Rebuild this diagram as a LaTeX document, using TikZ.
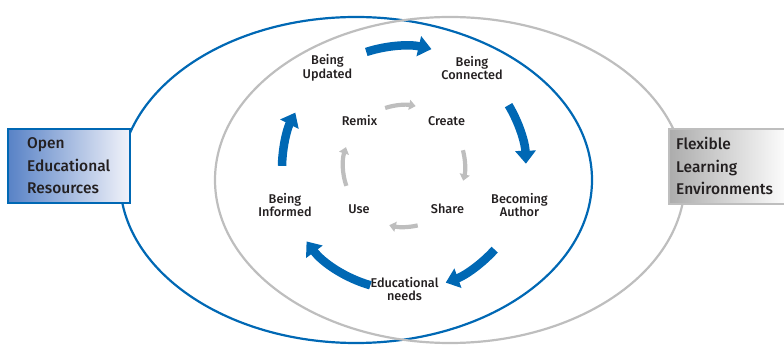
\documentclass[tikz,border=0pt]{standalone}
\usepackage{fontspec}
\setmainfont{Fira Sans}[BoldFont={Fira Sans Medium}]
\usetikzlibrary{arrows.meta}
\definecolor{oblue}{RGB}{0,104,180}
\definecolor{ogray}{RGB}{190,190,190}
\definecolor{txt}{RGB}{35,31,32}
\definecolor{oerleft}{RGB}{88,130,198}
\definecolor{oerright}{RGB}{242,243,250}
\definecolor{fleleft}{RGB}{172,172,172}
\begin{document}
\begin{tikzpicture}[x=1pt,y=1pt,
  lbl/.style={align=center, inner sep=0pt, text=txt, font=\fontsize{12.7}{13.5}\selectfont\bfseries},
  boxtxt/.style={align=left, inner sep=0pt, anchor=west, text=txt, font=\fontsize{15.5}{22.5}\selectfont\bfseries},
  bigarrow/.style={oblue, line width=8.5pt, -{Triangle[width=20pt,length=13pt]}},
  smallarrow/.style={ogray, line width=4.2pt, -{Triangle[width=10pt,length=6.5pt]}}]
\useasboundingbox (0,0) rectangle (784,345);
% ellipses
\draw[oblue, line width=2.2pt] (356,165) ellipse [x radius=236, y radius=163];
\draw[ogray, line width=2.2pt] (450,165) ellipse [x radius=235, y radius=163];
% boxes
\shade[left color=oerleft, right color=oerright] (8,142) rectangle (130,216);
\draw[oblue, line width=2pt] (8,142) rectangle (130,216);
\node[boxtxt] (oer) at (27,179) {Open\\Educational\\Resources};
\shade[left color=fleleft, right color=white] (669,141) rectangle (790,216);
\draw[ogray, line width=2pt] (669,141) rectangle (790,216);
\node[boxtxt] (fle) at (676,179) {Flexible\\Learning\\Environments};
% centres of the cycles
\coordinate (bc) at (404,177);
\coordinate (gc) at (404,179);
% labels
\node[lbl] (upd) at (327.5,277) {Being\\Updated};
\node[lbl] (con) at (472,277) {Being\\Connected};
\node[lbl] (remix) at (359.5,224) {Remix};
\node[lbl] (create) at (446.5,224) {Create};
\node[lbl] (inf) at (285,140) {Being\\Informed};
\node[lbl] (use) at (359,136) {Use};
\node[lbl] (share) at (447.5,136) {Share};
\node[lbl] (auth) at (519.5,140) {Becoming\\Author};
\node[lbl] (needs) at (404.5,56) {Educational\\needs};
% blue cycle
\draw[bigarrow] (bc) ++(108:122) arc[start angle=108, end angle=77, radius=122];
\draw[bigarrow] (bc) ++(31:122) arc[start angle=31, end angle=2, radius=122];
\draw[bigarrow] (bc) ++(-42:122) arc[start angle=-42, end angle=-70, radius=122];
\draw[bigarrow] (bc) ++(-106:122) arc[start angle=-106, end angle=-143, radius=122];
\draw[bigarrow] (bc) ++(179:122) arc[start angle=179, end angle=153, radius=122];
% gray cycle
\draw[smallarrow] (gc) ++(108:61) arc[start angle=108, end angle=79, radius=61];
\draw[smallarrow] (gc) ++(15:61) arc[start angle=15, end angle=-14, radius=61];
\draw[smallarrow] (gc) ++(-77:61) arc[start angle=-77, end angle=-104, radius=61];
\draw[smallarrow] (gc) ++(199:61) arc[start angle=199, end angle=162, radius=61];
\end{tikzpicture}
\end{document}
